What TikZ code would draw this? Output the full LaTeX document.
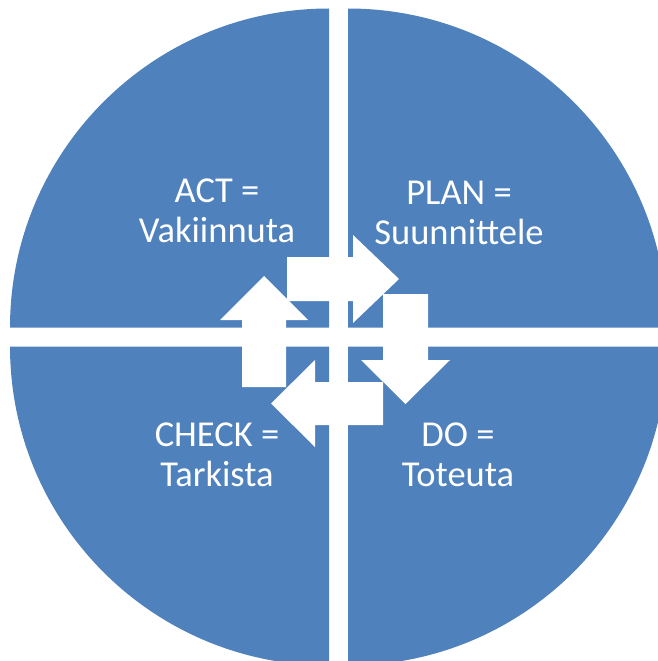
\documentclass[tikz,border=0pt]{standalone}
\usepackage{fontspec}
\setmainfont{Carlito}
\usepackage{tikz,xcolor}
\usetikzlibrary{calc}

\definecolor{pdcablue}{HTML}{4F81BD}

\tikzset{
    quadrant/.style={fill=pdcablue},
    cyclearrow/.style={fill=white},
    phase/.style={text=white, align=center, inner sep=0pt, anchor=base,
        font=\fontsize{36.5}{40}\selectfont}
}

\begin{document}
\begin{tikzpicture}[x=1pt, y=-1pt]
    \useasboundingbox (0,0) rectangle (658,661);
    \clip (0,0) rectangle (658,661);

        % four quarters of the circle
        \fill[quadrant] (329,327.5) -- (10,327.5) arc[start angle=180, end angle=270, radius=319] -- cycle;
        \fill[quadrant] (348,327.5) -- (348,8.5) arc[start angle=270, end angle=360, radius=319] -- cycle;
        \fill[quadrant] (348,346.5) -- (667,346.5) arc[start angle=0, end angle=90, radius=319] -- cycle;
        \fill[quadrant] (329,346.5) -- (329,665.5) arc[start angle=90, end angle=180, radius=319] -- cycle;

        % arrows of the cycle
        \fill[cyclearrow] (287,257) -- (353,257) -- (353,235) -- (399,279) -- (353,323) -- (353,301) -- (287,301) -- cycle;
        \fill[cyclearrow] (383,294) -- (428,294) -- (428,360) -- (450,360) -- (405.5,404) -- (361,360) -- (383,360) -- cycle;
        \fill[cyclearrow] (383,382) -- (383,425) -- (315,425) -- (315,447) -- (271,403.5) -- (315,360) -- (315,382) -- cycle;
        \fill[cyclearrow] (242,387) -- (242,320) -- (220,320) -- (264,276) -- (308,320) -- (286,320) -- (286,387) -- cycle;

        % texts (base = last line)
        \node[phase] (act) at (217,242) {ACT =\\Vakiinnuta};
        \node[phase] (plan) at (459,244) {PLAN =\\Suunnittele};
        \node[phase] (check) at (217,486) {CHECK =\\Tarkista};
        \node[phase] (do) at (458,486) {DO =\\Toteuta};
\end{tikzpicture}
\end{document}
